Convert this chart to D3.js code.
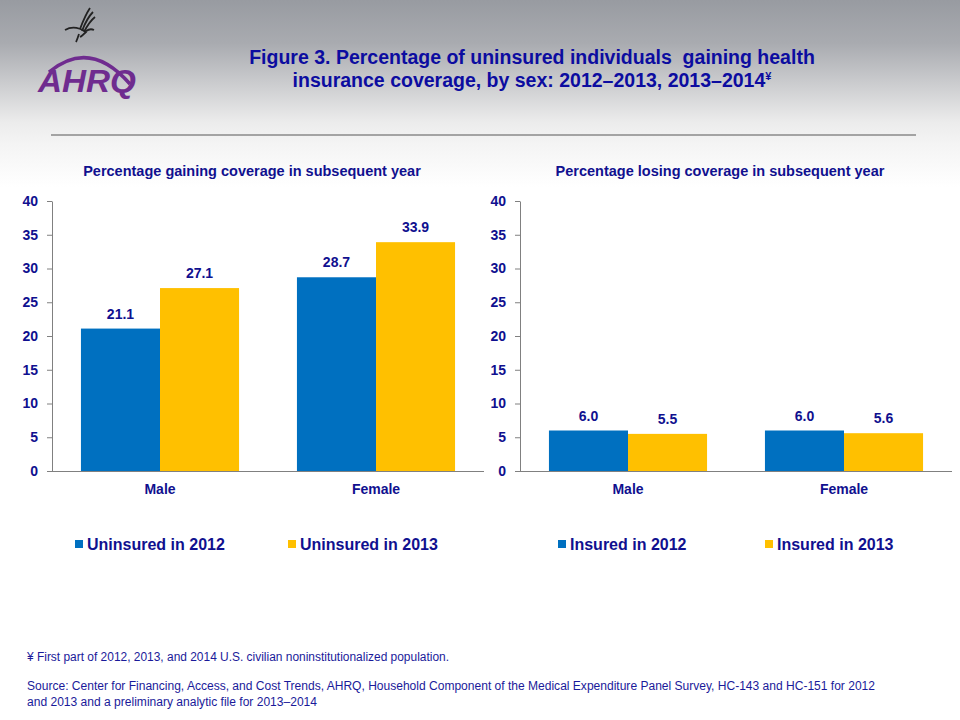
<!DOCTYPE html>
<html>
<head>
<meta charset="utf-8">
<script src="https://cdn.jsdelivr.net/npm/d3@7"></script>
<style>
  body { margin: 0; background: #fff; }
  svg { display: block; font-family: 'Liberation Sans', Arial, sans-serif; }
</style>
</head>
<body>
<svg id="chart" width="960" height="720"></svg>
<script>
// data
const categories = ['Male', 'Female']
const yTicks = [0, 5, 10, 15, 20, 25, 30, 35, 40]

const gainingSeries = ['Uninsured in 2012', 'Uninsured in 2013']
const uninsured2012 = [21.1, 28.7]
const uninsured2013 = [27.1, 33.9]

const losingSeries = ['Insured in 2012', 'Insured in 2013']
const insured2012 = [6.0, 6.0]
const insured2013 = [5.5, 5.6]

const colors = ['#0070c0', '#ffc000']
const navy = '#10108f'

const svg = d3.select('#chart')

// header background gradient
const defs = svg.append('defs')
const grad = defs.append('linearGradient')
    .attr('id', 'bg').attr('x1', 0).attr('y1', 0).attr('x2', 0).attr('y2', 1)
grad.selectAll('stop')
    .data([[0, '#989ba1'], [0.06, '#a9abb0'], [0.17, '#ececec'], [0.2, '#f4f4f4'], [0.26, '#ffffff'], [1, '#ffffff']])
    .enter().append('stop')
    .attr('offset', (d) => d[0])
    .attr('stop-color', (d) => d[1])
svg.append('rect').attr('width', 960).attr('height', 720).attr('fill', 'url(#bg)')

// logos (HHS eagle + AHRQ)
const logo = svg.append('g')
logo.append('g')
    .attr('fill', 'none').attr('stroke', '#222').attr('stroke-width', 1.8)
    .selectAll('path')
    .data([
        'M80,29 C83,21 86,14 90,8',
        'M82,31 C85,23 89,16 93,12',
        'M84,32 C87,26 90,21 95,17',
        'M65,30 C72,26 80,28 86,32 C84,34 82,36 80,37',
        'M86,31 C89,29 92,29 94,30',
        'M79,34 C78,37 77,40 76,42',
    ])
    .enter().append('path').attr('d', (d) => d)
logo.append('path')
    .attr('d', 'M49,72 Q90,38 130,84')
    .attr('fill', 'none').attr('stroke', '#6f2c8f').attr('stroke-width', 3.5)
logo.append('text')
    .attr('x', 38).attr('y', 92)
    .attr('fill', '#6f2c8f')
    .attr('textLength', 98).attr('lengthAdjust', 'spacingAndGlyphs')
    .style('font-size', '32px').style('font-weight', 'bold').style('font-style', 'italic')
    .text('AHRQ')

// title
const title = svg.append('text')
    .attr('text-anchor', 'middle')
    .attr('fill', '#0c0ca0')
    .style('white-space', 'pre')
    .style('font-size', '19.5px').style('font-weight', 'bold')
title.append('tspan').attr('x', 532).attr('y', 64).text('Figure 3. Percentage of uninsured individuals  gaining health')
const t2 = title.append('tspan').attr('x', 532).attr('y', 87).text('insurance coverage, by sex: 2012–2013, 2013–2014')
t2.append('tspan').attr('dy', -7).style('font-size', '11px').text('¥')

// separator
svg.append('line')
    .attr('x1', 51).attr('x2', 916).attr('y1', 135).attr('y2', 135)
    .attr('stroke', '#a3a3a3').attr('stroke-width', 2)

function drawPanel(opts) {
    const { left, right, subtitle, series, values } = opts
    const g = svg.append('g')

    const y = d3.scaleLinear().domain([0, 40]).range([471, 201])
    const x = d3.scaleBand().domain(categories).range([left, right])
        .paddingInner(0.268).paddingOuter(0.134)
    const xs = d3.scaleBand().domain(series).range([0, x.bandwidth()])

    // subtitle
    g.append('text')
        .attr('x', (left + right) / 2 - 16)
        .attr('y', 176)
        .attr('text-anchor', 'middle')
        .attr('fill', navy)
        .style('font-size', '14.5px').style('font-weight', 'bold')
        .text(subtitle)

    // bars
    series.forEach((s, si) => {
        g.selectAll('.bar' + si)
            .data(categories)
            .enter().append('rect')
            .attr('x', (c) => x(c) + xs(s))
            .attr('y', (c, i) => y(values[si][i]))
            .attr('width', xs.bandwidth())
            .attr('height', (c, i) => y(0) - y(values[si][i]))
            .attr('fill', colors[si])

        g.selectAll('.lab' + si)
            .data(categories)
            .enter().append('text')
            .attr('x', (c) => x(c) + xs(s) + xs.bandwidth() / 2)
            .attr('y', (c, i) => y(values[si][i]) - 10)
            .attr('text-anchor', 'middle')
            .attr('fill', navy)
            .style('font-size', '14px').style('font-weight', 'bold')
            .text((c, i) => values[si][i].toFixed(1))
    })

    // y axis
    const ya = g.append('g')
        .attr('transform', `translate(${left},0)`)
        .call(d3.axisLeft(y).tickValues(yTicks).tickSize(5).tickSizeOuter(0).tickPadding(9))
    ya.select('.domain').attr('stroke', '#808080')
    ya.selectAll('.tick line').attr('stroke', '#808080')
    ya.selectAll('text')
        .attr('fill', navy)
        .style('font-size', '14px').style('font-weight', 'bold')
        .style('font-family', "'Liberation Sans', Arial, sans-serif")

    // x axis
    g.append('line')
        .attr('x1', left).attr('x2', right)
        .attr('y1', y(0) + 0.5).attr('y2', y(0) + 0.5)
        .attr('stroke', '#808080')
    g.selectAll('.cat')
        .data(categories)
        .enter().append('text')
        .attr('x', (c) => x(c) + x.bandwidth() / 2)
        .attr('y', 494)
        .attr('text-anchor', 'middle')
        .attr('fill', navy)
        .style('font-size', '14px').style('font-weight', 'bold')
        .text((c) => c)

    // legend
    const leg = g.selectAll('.leg')
        .data(series)
        .enter().append('g')
        .attr('transform', (s, i) => `translate(${opts.legendX[i]},544)`)
    leg.append('rect')
        .attr('x', 0).attr('y', -4).attr('width', 8).attr('height', 8)
        .attr('fill', (s, i) => colors[i])
    leg.append('text')
        .attr('x', 12).attr('y', 6)
        .attr('fill', navy)
        .style('font-size', '16px').style('font-weight', 'bold')
        .text((s) => s)
}

drawPanel({
    left: 52, right: 484,
    subtitle: 'Percentage gaining coverage in subsequent year',
    series: gainingSeries,
    values: [uninsured2012, uninsured2013],
    legendX: [75, 288],
})

drawPanel({
    left: 520, right: 952,
    subtitle: 'Percentage losing coverage in subsequent year',
    series: losingSeries,
    values: [insured2012, insured2013],
    legendX: [558, 765],
})

// footnotes
const foot = svg.append('g')
    .attr('fill', '#1a1a9a')
    .style('font-family', "'Liberation Sans Narrow', 'Arial Narrow', 'Liberation Sans', sans-serif")
    .style('font-size', '12.5px')
foot.append('text').attr('x', 27).attr('y', 661)
    .attr('textLength', 422).attr('lengthAdjust', 'spacingAndGlyphs')
    .text('¥ First part of 2012, 2013, and 2014 U.S. civilian noninstitutionalized population.')
foot.append('text').attr('x', 27).attr('y', 690)
    .attr('textLength', 848).attr('lengthAdjust', 'spacingAndGlyphs')
    .text('Source: Center for Financing, Access, and Cost Trends, AHRQ, Household Component of the Medical Expenditure Panel Survey,  HC-143 and HC-151 for 2012')
foot.append('text').attr('x', 27).attr('y', 706)
    .attr('textLength', 290).attr('lengthAdjust', 'spacingAndGlyphs')
    .text('and 2013 and a preliminary analytic file for 2013–2014')
</script>
</body>
</html>
